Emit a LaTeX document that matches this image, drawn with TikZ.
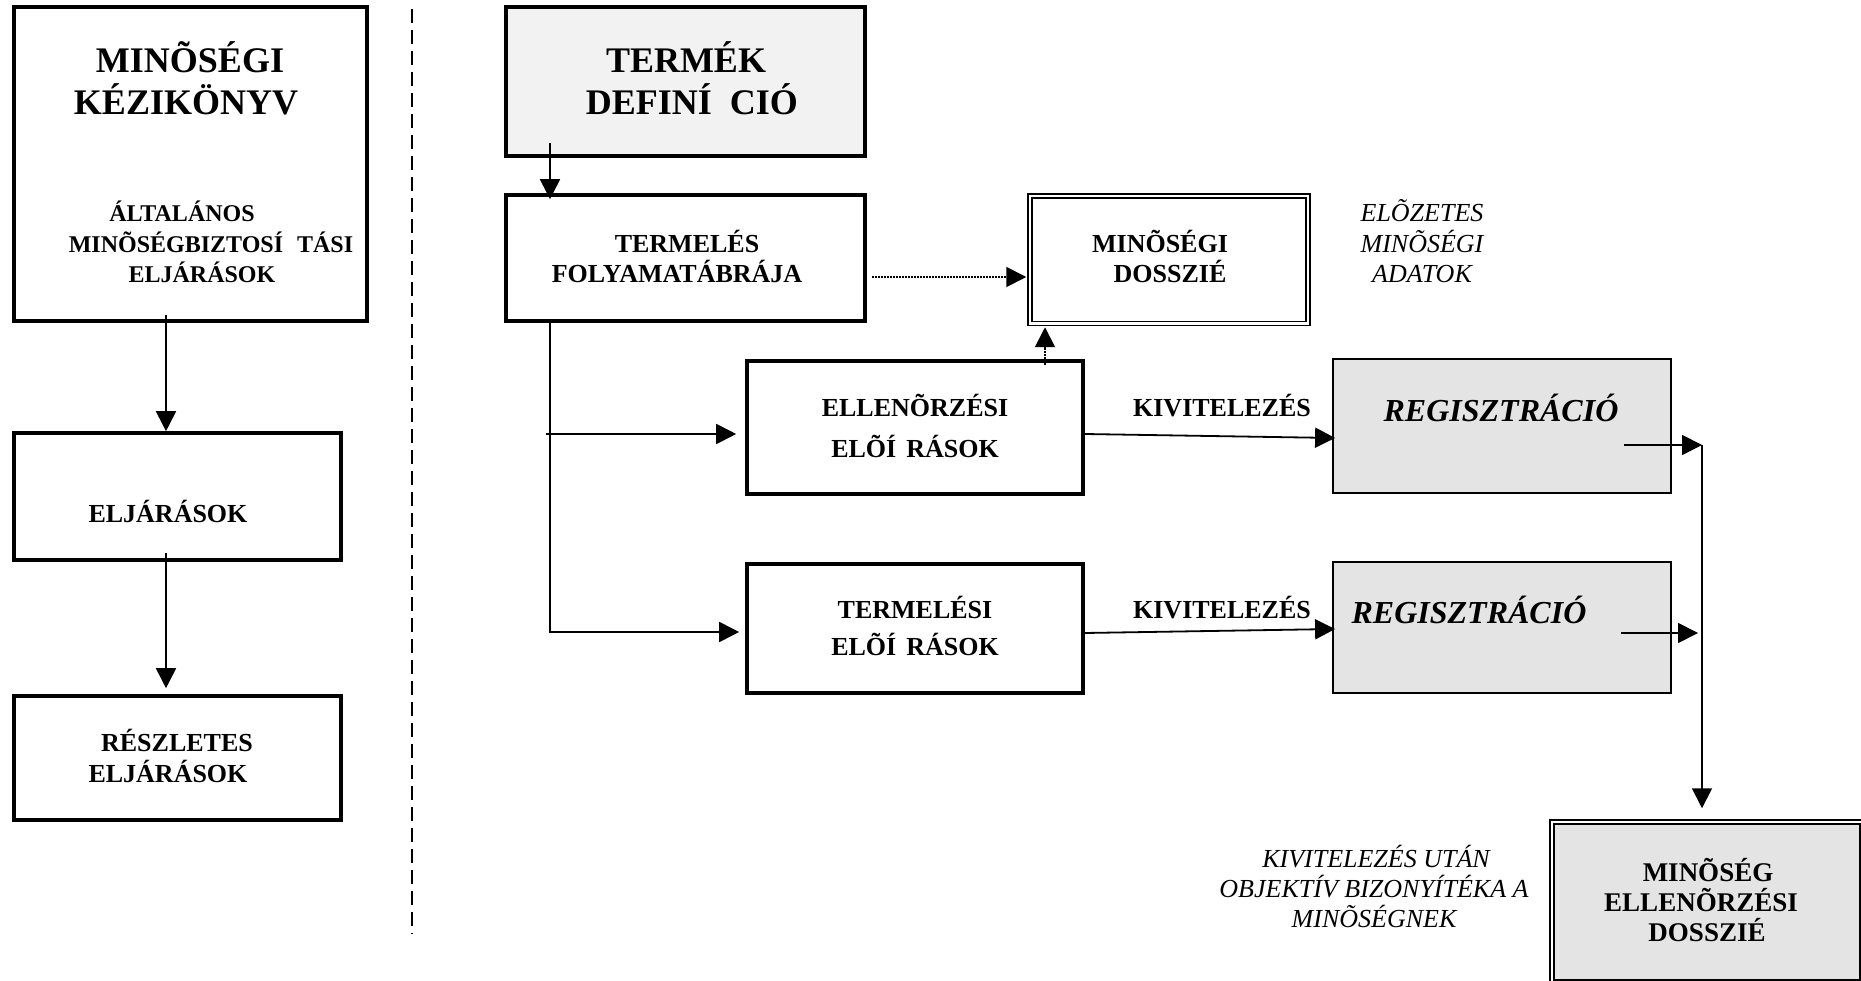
\documentclass[tikz,border=0pt]{standalone}
\usepackage{fontspec}
\setmainfont{Liberation Serif}
\usetikzlibrary{arrows.meta}
\definecolor{paleGray}{HTML}{F2F2F2}
\definecolor{regGray}{HTML}{E4E4E4}
\begin{document}
\begin{tikzpicture}[x=1pt,y=-1pt,
  heavybox/.style={draw, line width=3.6pt, inner sep=0pt},
  thinbox/.style={draw, line width=1.8pt, inner sep=0pt, fill=regGray},
  dblbox/.style={draw, double, line width=1.5pt, double distance=2.5pt, inner sep=0pt},
  conn/.style={line width=1.8pt},
  arr/.style={conn, -{Triangle[length=20pt,width=20pt]}},
  dotarr/.style={arr, dash pattern=on 1.5pt off 1.5pt},
  lbl/.style={anchor=base, inner sep=0pt},
  hugeb/.style={lbl, font=\fontsize{36}{40}\selectfont\bfseries},
  midb/.style={lbl, font=\fontsize{26}{30}\selectfont\bfseries},
  dosb/.style={lbl, font=\fontsize{27}{31}\selectfont\bfseries},
  smallb/.style={lbl, font=\fontsize{24}{28}\selectfont\bfseries},
  noteit/.style={lbl, font=\fontsize{26}{30}\selectfont\itshape},
  regit/.style={lbl, font=\fontsize{32}{36}\selectfont\bfseries\itshape},
]
\useasboundingbox (0,0) rectangle (1861,981);

% left column: manual hierarchy
\node[heavybox, minimum width=353pt, minimum height=314pt] (kezi) at (190.5,164) {};
\node[heavybox, minimum width=327pt, minimum height=127pt] (eljar) at (177.5,496.5) {};
\node[heavybox, minimum width=327pt, minimum height=124pt] (reszl) at (177.5,758) {};

% separator
\draw[line width=2pt, dash pattern=on 14pt off 7pt] (412,9) -- (412,934);

% right part: product flow
\node[heavybox, fill=paleGray, minimum width=359pt, minimum height=149pt] (termek) at (685.5,81.5) {};
\node[heavybox, minimum width=359pt, minimum height=126pt] (termel) at (685.5,258) {};
\node[heavybox, minimum width=336pt, minimum height=133pt] (ellen) at (915,427.5) {};
\node[heavybox, minimum width=336pt, minimum height=129pt] (tele) at (915,628.5) {};
\node[dblbox, minimum width=278pt, minimum height=127.5pt] (dossz) at (1169,259.75) {};
\node[thinbox, minimum width=338pt, minimum height=134pt] (reg1) at (1502,426) {};
\node[thinbox, minimum width=338pt, minimum height=131pt] (reg2) at (1502,627.5) {};
% the final file box runs past the page edge on the right and at the bottom
\node[dblbox, fill=regGray, minimum width=310pt, minimum height=160pt] (vegso) at (1707,902) {};

% box texts
\node[hugeb] (kezi1) at (190,73) {MINÕSÉGI};
\node[hugeb] (kezi2) at (186,115) {KÉZIKÖNYV};
\node[smallb] (kezi3) at (182,222) {ÁLTALÁNOS};
\node[smallb] (kezi4) at (211,253) {MINÕSÉGBIZTOSÍ\hspace{14pt}TÁSI};
\node[smallb] (kezi5) at (202,283) {ELJÁRÁSOK};
\node[midb] (eljar1) at (168,522) {ELJÁRÁSOK};
\node[midb] (reszl1) at (177,751) {RÉSZLETES};
\node[midb] (reszl2) at (168,782) {ELJÁRÁSOK};

\node[hugeb] (termek1) at (686,73) {TERMÉK};
\node[hugeb] (termek2) at (692,115) {DEFINÍ\hspace{18pt}CIÓ};
\node[midb] (termel1) at (687,253) {TERMELÉS};
\node[midb] (termel2) at (677,283) {FOLYAMATÁBRÁJA};
\node[midb] (dossz1) at (1160,253) {MINÕSÉGI};
\node[midb] (dossz2) at (1170,283) {DOSSZIÉ};
\node[noteit] (elo1) at (1422,222) {ELÕZETES};
\node[noteit] (elo2) at (1422,253) {MINÕSÉGI};
\node[noteit] (elo3) at (1422,283) {ADATOK};

\node[midb] (ellen1) at (915,417) {ELLENÕRZÉSI};
\node[midb] (ellen2) at (915,457) {ELÕÍ\hspace{10pt}RÁSOK};
\node[midb] (tele1) at (915,618) {TERMELÉSI};
\node[midb] (tele2) at (915,655) {ELÕÍ\hspace{10pt}RÁSOK};
\node[midb] (kiv1) at (1222,417) {KIVITELEZÉS};
\node[midb] (kiv2) at (1222,618) {KIVITELEZÉS};
\node[regit] (reg1t) at (1501,421) {REGISZTRÁCIÓ};
\node[regit] (reg2t) at (1469,623) {REGISZTRÁCIÓ};

\node[dosb] (vegso1) at (1708,881) {MINÕSÉG};
\node[dosb] (vegso2) at (1701,911) {ELLENÕRZÉSI};
\node[dosb] (vegso3) at (1707,941) {DOSSZIÉ};
\node[noteit] (utan1) at (1376,867) {KIVITELEZÉS UTÁN};
\node[noteit] (utan2) at (1374,897) {OBJEKTÍV BIZONYÍTÉKA A};
\node[noteit] (utan3) at (1374,927) {MINÕSÉGNEK};

% connectors, left column
\coordinate (k1) at (166,315);
\draw[arr] (k1) -- (k1 |- eljar.north);
\coordinate (k2) at (166,553);
\draw[arr, shorten >=6pt] (k2) -- (k2 |- reszl.north);

% connectors, right part
\coordinate (t1) at (550,143);
\draw[arr, shorten >=-6pt] (t1) -- (t1 |- termel.north);
\coordinate (tv) at (550,632);
\draw[arr, shorten >=6pt] (termel.south -| tv) -- (tv) -- (tv -| tele.west);
\coordinate (tb) at (546,434);
\draw[arr, shorten >=9pt] (tb) -- (tb -| ellen.west);

\coordinate (d1) at (872,277);
\draw[dotarr, shorten >=3pt] (d1) -- (d1 -| dossz.west);
\coordinate (d2) at (1045,365);
\draw[dotarr, shorten >=3pt] (d2) -- (d2 |- dossz.south);

\draw[arr] ([yshift=-6.5pt]ellen.east) -- ([yshift=-12pt,xshift=3pt]reg1.west);
\draw[arr] ([yshift=-4.5pt]tele.east) -- ([yshift=-1.5pt,xshift=3pt]reg2.west);

\coordinate (r1) at (1624,445);
\coordinate (rj) at (1702,445);
\draw[arr] (r1) -- (rj);
\draw[arr, shorten >=13pt] (rj) -- (rj |- vegso.north);
\coordinate (r2) at (1621,633);
\coordinate (r2e) at (1698,633);
\draw[arr] (r2) -- (r2e);
\end{tikzpicture}
\end{document}
